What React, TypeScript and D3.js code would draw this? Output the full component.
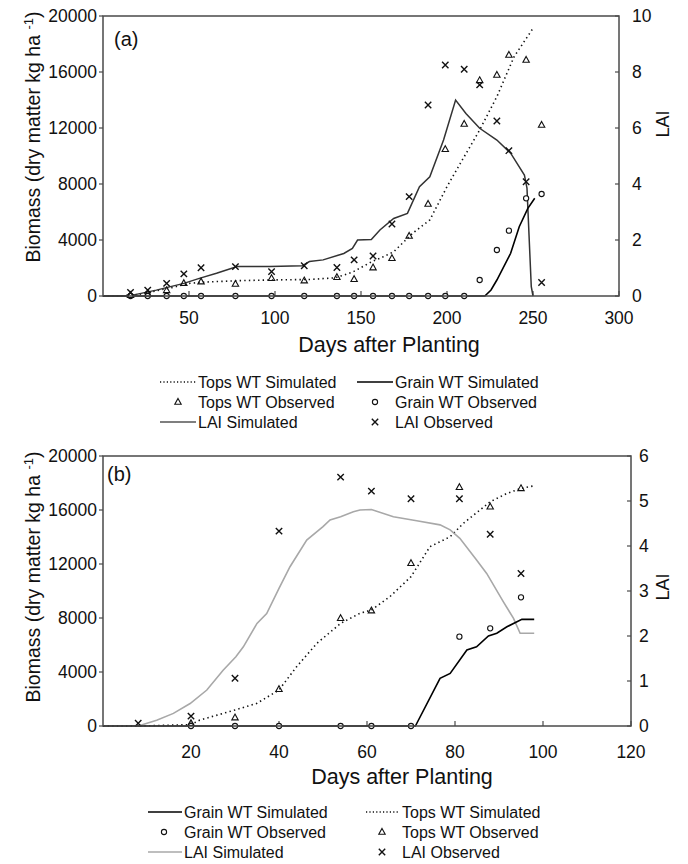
import React from "react";
import * as d3 from "d3";

// ---------- Panel (a) data ----------
const aObsDays = [16, 26, 37, 47, 57, 77, 98, 117, 136, 146, 157, 168, 178, 189, 199, 210, 219, 229, 236, 246, 255];
const aLaiObs = [0.13, 0.21, 0.45, 0.79, 1.01, 1.05, 0.87, 1.08, 1.02, 1.29, 1.43, 2.57, 3.55, 6.82, 8.25, 8.1, 7.54, 6.25, 5.19, 4.08, 0.48];
const aTopsObs = [50, 150, 400, 907, 1020, 857, 1262, 1095, 1333, 1190, 2024, 2690, 4286, 6571, 10476, 12286, 15400, 15786, 17214, 16857, 12214];
const aGrainObs = [0, 0, 0, 0, 0, 0, 0, 0, 0, 0, 0, 0, 0, 0, 0, 0, 1143, 3286, 4667, 6976, 7286];

const aTopsSimDays = [0, 10, 20, 30, 40, 50, 60, 80, 100, 120, 135, 145, 157, 161, 169, 180, 190, 200, 210, 219, 229, 239, 250];
const aTopsSimVals = [0, 0, 100, 350, 600, 900, 1000, 1100, 1150, 1180, 1300, 1700, 2500, 2690, 3160, 4480, 5430, 7810, 9950, 11860, 14240, 17090, 19120];

const aLaiSimDays = [0, 15, 18, 31, 47, 56, 66, 78, 97, 116, 120, 128, 140, 145, 148, 156, 161, 169, 177, 184, 190, 198, 205, 211, 219, 229, 237, 245, 246.5, 249, 250];
const aLaiSimVals = [0, 0, 0.04, 0.21, 0.45, 0.63, 0.81, 1.05, 1.05, 1.08, 1.23, 1.29, 1.52, 1.7, 2.0, 2.02, 2.36, 2.77, 2.95, 3.9, 4.26, 5.57, 7.0, 6.52, 5.99, 5.57, 5.1, 4.32, 3.85, 0.33, 0];

const aGrainSimDays = [0, 222, 225.6, 229, 237, 242, 247, 251];
const aGrainSimVals = [0, 0, 430, 1143, 3050, 4950, 6264, 6980];

// ---------- Panel (b) data ----------
const bObsDays = [8, 20, 30, 40, 54, 61, 70, 81, 88, 95];
const bLaiObs = [0.06, 0.22, 1.06, 4.33, 5.53, 5.22, 5.05, 5.05, 4.26, 3.39];
const bTopsObsDays = [20, 30, 40, 54, 61, 70, 81, 88, 95];
const bTopsObs = [200, 617, 2716, 7975, 8540, 12050, 17680, 16240, 17600];
const bGrainObsDays = [20, 30, 40, 54, 61, 70, 81, 88, 95];
const bGrainObs = [0, 0, 0, 0, 0, 0, 6617, 7235, 9530];

const bTopsSimDays = [0, 8, 20, 22, 30, 35, 40, 44, 48.6, 54, 58.4, 61, 65.2, 70, 74.3, 78.9, 81.9, 88, 91.8, 95, 97.8];
const bTopsSimVals = [0, 0, 100, 440, 1185, 1680, 2670, 4390, 6120, 7600, 8350, 8590, 9580, 11060, 13280, 14020, 15010, 16610, 17230, 17600, 17780];

const bLaiSimDays = [8, 12.2, 16, 19.8, 23.6, 27.3, 30.2, 31.9, 35, 37.2, 40, 42.5, 46.3, 50, 51.6, 54, 56.9, 58.4, 61, 66, 71.3, 76.6, 78.9, 81.1, 84.9, 87.2, 91, 93.3, 94.8, 98];
const bLaiSimVals = [0, 0.13, 0.28, 0.5, 0.8, 1.24, 1.54, 1.76, 2.28, 2.5, 3.06, 3.54, 4.13, 4.43, 4.58, 4.65, 4.76, 4.8, 4.81, 4.65, 4.56, 4.47, 4.36, 4.17, 3.69, 3.39, 2.76, 2.39, 2.06, 2.06];

const bGrainSimDays = [0, 71, 76.6, 78.9, 82.7, 84.9, 87.6, 89.5, 91.8, 95.2, 98];
const bGrainSimVals = [0, 0, 3530, 3900, 5630, 5870, 6670, 6870, 7350, 7900, 7900];

// ---------- Ticks ----------
const biomassTicks = [0, 4000, 8000, 12000, 16000, 20000];
const aDayTicks = [50, 100, 150, 200, 250, 300];
const aLaiTicks = [0, 2, 4, 6, 8, 10];
const bDayTicks = [20, 40, 60, 80, 100, 120];
const bLaiTicks = [0, 1, 2, 3, 4, 5, 6];

const FONT = "'Liberation Sans', Arial, Helvetica, sans-serif";
const FRAME = "#4a4a4a";

const Tri = ({ x, y }: { x: number; y: number }) => (
  <path d={`M${x},${y - 3.6}L${x + 3.2},${y + 2.2}L${x - 3.2},${y + 2.2}Z`} fill="none" stroke="#111" strokeWidth={1.1} />
);
const Circ = ({ x, y }: { x: number; y: number }) => (
  <circle cx={x} cy={y} r={2.6} fill="white" stroke="#111" strokeWidth={1.1} />
);
const Cross = ({ x, y }: { x: number; y: number }) => (
  <path d={`M${x - 3.2},${y - 3.2}L${x + 3.2},${y + 3.2}M${x - 3.2},${y + 3.2}L${x + 3.2},${y - 3.2}`} stroke="#111" strokeWidth={1.4} />
);

type PanelProps = {
  left: number; right: number; top: number; bottom: number;
  xMax: number; lMax: number;
  dayTicks: number[]; laiTicks: number[];
  tickBase: number; titleY: number; titleX: number;
  tag: string; tagX: number; tagY: number;
  yLabelY: number; laiLabelY: number; rightLabelX: number;
  topsSim: [number[], number[]]; laiSim: [number[], number[]]; grainSim: [number[], number[]];
  laiObs: [number[], number[]]; topsObs: [number[], number[]]; grainObs: [number[], number[]];
  laiColor: string; laiWidth: number;
};

function Panel(p: PanelProps) {
  const x = d3.scaleLinear().domain([0, p.xMax]).range([p.left, p.right]);
  const y = d3.scaleLinear().domain([0, 20000]).range([p.bottom, p.top]);
  const yl = d3.scaleLinear().domain([0, p.lMax]).range([p.bottom, p.top]);
  const line = (days: number[], vals: number[], ys: d3.ScaleLinear<number, number>) =>
    d3.line<number>().x((_, i) => x(days[i])).y((v) => ys(v))(vals) || "";
  return (
    <g fontFamily={FONT}>
      {biomassTicks.map((t) => (
        <g key={"l" + t}>
          <line x1={p.left - 4} x2={p.left} y1={y(t)} y2={y(t)} stroke={FRAME} strokeWidth={1.2} />
          <text x={97} y={y(t) + 6} textAnchor="end" fontSize={17.5} fill="#111">{t}</text>
        </g>
      ))}
      {p.laiTicks.map((t) => (
        <g key={"r" + t}>
          <line x1={p.right - 4} x2={p.right} y1={yl(t)} y2={yl(t)} stroke={FRAME} strokeWidth={1.2} />
          <text x={p.rightLabelX} y={yl(t) + 6} fontSize={17.5} fill="#111">{t}</text>
        </g>
      ))}
      {p.dayTicks.map((t) => (
        <g key={"b" + t}>
          <line x1={x(t)} x2={x(t)} y1={p.bottom} y2={p.bottom - 5} stroke={FRAME} strokeWidth={1.2} />
          <text x={x(t)} y={p.tickBase} textAnchor="middle" fontSize={17.5} fill="#111">{t}</text>
        </g>
      ))}
      <path d={line(p.topsSim[0], p.topsSim[1], y)} fill="none" stroke="#111" strokeWidth={1.6} strokeDasharray="1.4,3.2" />
      <path d={line(p.laiSim[0], p.laiSim[1], yl)} fill="none" stroke={p.laiColor} strokeWidth={p.laiWidth} />
      <path d={line(p.grainSim[0], p.grainSim[1], y)} fill="none" stroke="#000" strokeWidth={1.6} />
      {p.grainObs[0].map((d, i) => <Circ key={"go" + i} x={x(d)} y={y(p.grainObs[1][i])} />)}
      {p.topsObs[0].map((d, i) => <Tri key={"to" + i} x={x(d)} y={y(p.topsObs[1][i])} />)}
      {p.laiObs[0].map((d, i) => <Cross key={"lo" + i} x={x(d)} y={yl(p.laiObs[1][i])} />)}
      <rect x={p.left} y={p.top} width={p.right - p.left} height={p.bottom - p.top} fill="none" stroke={FRAME} strokeWidth={1.5} />
      <text x={p.tagX} y={p.tagY} fontSize={20} fill="#111">{p.tag}</text>
      <text x={p.titleX} y={p.titleY} textAnchor="middle" fontSize={21.5} fill="#111">Days after Planting</text>
      <text transform={`translate(40,${p.yLabelY}) rotate(-90)`} textAnchor="middle" fontSize={19.5} fill="#111">
        Biomass (dry matter kg ha <tspan fontSize={13} dy={-7}>-1</tspan><tspan dy={7}>)</tspan>
      </text>
      <text transform={`translate(669,${p.laiLabelY}) rotate(-90)`} textAnchor="middle" fontSize={18} fill="#111">LAI</text>
    </g>
  );
}

type LegendItem = { label: string; kind: "dot" | "solid" | "gray" | "tri" | "circ" | "cross" };

function Legend({ x1, x2, y0, items, lineLen, markerOff, color }: { x1: number; x2: number; y0: number; items: LegendItem[][]; lineLen: number; markerOff: number; color: string }) {
  return (
    <g fontFamily={FONT} fontSize={16} fill="#111">
      {items.map((row, r) =>
        row.map((it, c) => {
          const tx = c === 0 ? x1 : x2;
          const yy = y0 + r * 20;
          let sym = null;
          if (it.kind === "dot") sym = <line x1={tx - lineLen} x2={tx - 2} y1={yy} y2={yy} stroke="#111" strokeWidth={1.3} strokeDasharray="1.2,2.2" />;
          else if (it.kind === "solid") sym = <line x1={tx - lineLen} x2={tx - 2} y1={yy} y2={yy} stroke="#000" strokeWidth={1.6} />;
          else if (it.kind === "gray") sym = <line x1={tx - lineLen} x2={tx - 2} y1={yy} y2={yy} stroke={color} strokeWidth={1.6} />;
          else if (it.kind === "tri") sym = <Tri x={tx - markerOff} y={yy} />;
          else if (it.kind === "circ") sym = <Circ x={tx - markerOff} y={yy} />;
          else sym = <Cross x={tx - markerOff} y={yy} />;
          return (
            <g key={r + "-" + c}>
              {sym}
              <text x={tx} y={yy + 6}>{it.label}</text>
            </g>
          );
        })
      )}
    </g>
  );
}

export default function App() {
  const legendA: LegendItem[][] = [
    [{ label: "Tops WT Simulated", kind: "dot" }, { label: "Grain WT Simulated", kind: "solid" }],
    [{ label: "Tops WT Observed", kind: "tri" }, { label: "Grain WT Observed", kind: "circ" }],
    [{ label: "LAI Simulated", kind: "gray" }, { label: "LAI Observed", kind: "cross" }],
  ];
  const legendB: LegendItem[][] = [
    [{ label: "Grain WT Simulated", kind: "solid" }, { label: "Tops WT Simulated", kind: "dot" }],
    [{ label: "Grain WT Observed", kind: "circ" }, { label: "Tops WT Observed", kind: "tri" }],
    [{ label: "LAI Simulated", kind: "gray" }, { label: "LAI Observed", kind: "cross" }],
  ];
  return (
    <svg width={688} height={864} style={{ position: "absolute", left: 0, top: 0, background: "white" }}>
      <rect width={688} height={864} fill="white" />
      <Panel
        left={103} right={619} top={16} bottom={296} xMax={300} lMax={10}
        dayTicks={aDayTicks} laiTicks={aLaiTicks} tickBase={324} titleY={352} titleX={389}
        tag="(a)" tagX={114} tagY={46} yLabelY={137} laiLabelY={124} rightLabelX={632}
        topsSim={[aTopsSimDays, aTopsSimVals]} laiSim={[aLaiSimDays, aLaiSimVals]} grainSim={[aGrainSimDays, aGrainSimVals]}
        laiObs={[aObsDays, aLaiObs]} topsObs={[aObsDays, aTopsObs]} grainObs={[aObsDays, aGrainObs]}
        laiColor="#333" laiWidth={1.5}
      />
      <Legend x1={198} x2={395} y0={382} items={legendA} lineLen={38} markerOff={20} color="#555" />
      <Panel
        left={103} right={631} top={456} bottom={726} xMax={120} lMax={6}
        dayTicks={bDayTicks} laiTicks={bLaiTicks} tickBase={758} titleY={784} titleX={402}
        tag="(b)" tagX={107} tagY={481} yLabelY={577} laiLabelY={587} rightLabelX={639}
        topsSim={[bTopsSimDays, bTopsSimVals]} laiSim={[bLaiSimDays, bLaiSimVals]} grainSim={[bGrainSimDays, bGrainSimVals]}
        laiObs={[bObsDays, bLaiObs]} topsObs={[bTopsObsDays, bTopsObs]} grainObs={[bGrainObsDays, bGrainObs]}
        laiColor="#a8a8a8" laiWidth={1.6}
      />
      <Legend x1={184} x2={402} y0={812} items={legendB} lineLen={36} markerOff={20} color="#a8a8a8" />
    </svg>
  );
}
